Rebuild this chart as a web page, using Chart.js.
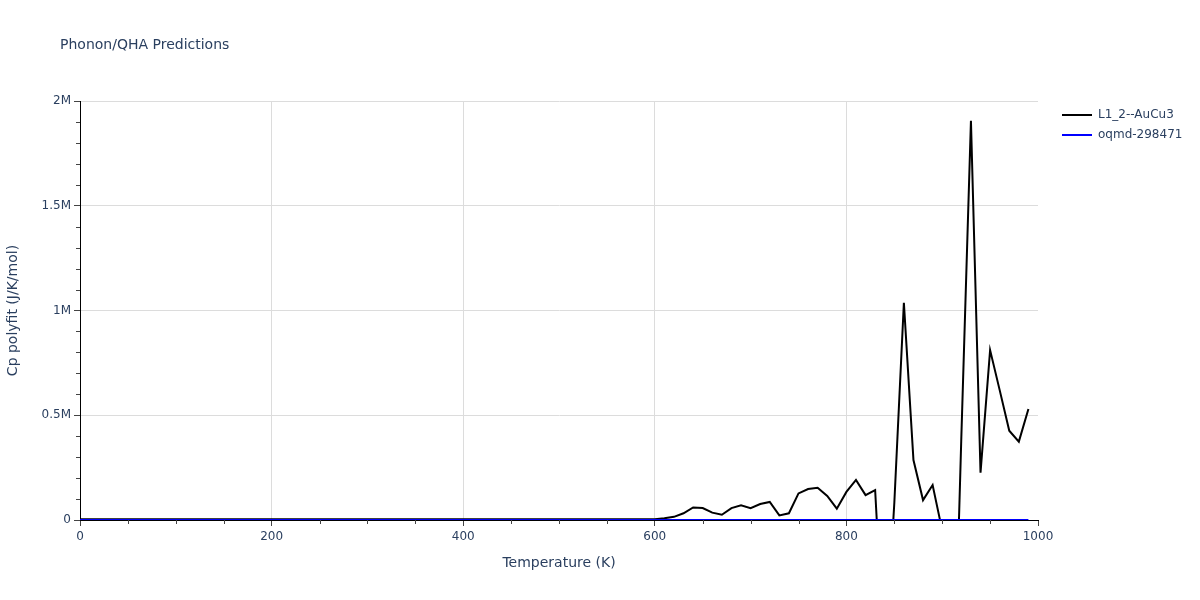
<!DOCTYPE html>
<html><head><meta charset="utf-8">
<script src="https://cdn.jsdelivr.net/npm/chart.js@4.4.0/dist/chart.umd.min.js"></script>
<style>html,body{margin:0;padding:0;background:#fff;}#wrap{width:1200px;height:600px;position:relative;}</style>
</head><body><div id="wrap"><canvas id="c" width="1200" height="600"></canvas></div>
<script>
const temperatures = [0,10,20,30,40,50,60,70,80,90,100,110,120,130,140,150,160,170,180,190,
200,210,220,230,240,250,260,270,280,290,300,310,320,330,340,350,360,370,380,390,
400,410,420,430,440,450,460,470,480,490,500,510,520,530,540,550,560,570,580,590,
600,610,620,630,640,650,660,670,680,690,700,710,720,730,740,750,760,770,780,790,
800,810,820,830,840,850,860,870,880,890,900,910,920,930,940,950,960,970,980,990];
const cpAuCu3 = [4000,4000,4000,4000,4000,4000,4000,4000,4000,4000,4000,4000,4000,4000,4000,4000,4000,4000,4000,4000,
4000,4000,4000,4000,4000,4000,4000,4000,4000,4000,4000,4000,4000,4000,4000,4000,4000,4000,4000,4000,
4000,4000,4000,4000,4000,4000,4000,4000,4000,4000,4000,4000,4000,4000,4000,4000,4000,4000,4000,4000,
4000,8000,15000,32000,60000,57000,35000,25000,57000,70000,56000,76000,86000,22000,32000,127000,148000,154000,115000,54000,
134000,191000,119000,143000,-700000,80000,1037000,286000,95000,167000,-50000,-1200000,400000,1906000,226000,811000,620000,426000,374000,530000];
const cpOqmd = [0,0,0,0,0,0,0,0,0,0,0,0,0,0,0,0,0,0,0,0,
0,0,0,0,0,0,0,0,0,0,0,0,0,0,0,0,0,0,0,0,
0,0,0,0,0,0,0,0,0,0,0,0,0,0,0,0,0,0,0,0,
0,0,0,0,0,0,0,0,0,0,0,0,0,0,0,0,0,0,0,0,
0,0,0,0,0,0,0,0,0,0,0,0,0,0,0,0,0,0,0,0];
const seriesNames = ['L1_2--AuCu3','oqmd-298471'];
const seriesColors = ['#000000','#0000ff'];
const xTicks = [0,200,400,600,800,1000];
const xTickLabels = ['0','200','400','600','800','1000'];
const xMinorTicks = [50,100,150,250,300,350,450,500,550,650,700,750,850,900,950];
const yTicks = [0,500000,1000000,1500000,2000000];
const yTickLabels = ['0','0.5M','1M','1.5M','2M'];
const yMinorTicks = [100000,200000,300000,400000,600000,700000,800000,900000,1100000,1200000,1300000,1400000,1600000,1700000,1800000,1900000];
const chartTitle = 'Phonon/QHA Predictions';
const xTitle = 'Temperature (K)';
const yTitle = 'Cp polyfit (J/K/mol)';

const FONT = 'DejaVu Sans';
const TXT = '#2a3f5f';
Chart.defaults.font.family = FONT;
Chart.defaults.color = TXT;

const toXY = (vals) => temperatures.map((t, i) => ({x: t, y: vals[i]}));

const extras = {
  id: 'extras',
  afterDraw(chart) {
    const ctx = chart.ctx;
    const xs = chart.scales.x, ys = chart.scales.y;
    const ca = chart.chartArea;
    ctx.save();
    ctx.strokeStyle = '#444';
    ctx.lineWidth = 1;
    ctx.beginPath();
    xMinorTicks.forEach(v => {
      const px = Math.round(xs.getPixelForValue(v)) + 0.5;
      ctx.moveTo(px, ca.bottom); ctx.lineTo(px, ca.bottom + 4);
    });
    yMinorTicks.forEach(v => {
      const py = Math.round(ys.getPixelForValue(v)) + 0.5;
      ctx.moveTo(ca.left - 4, py); ctx.lineTo(ca.left, py);
    });
    ctx.stroke();
    // title
    ctx.fillStyle = TXT;
    ctx.font = '14px "' + FONT + '"';
    ctx.textBaseline = 'middle';
    ctx.textAlign = 'left';
    ctx.fillText(chartTitle, 60, 45);
    // legend
    ctx.font = '12px "' + FONT + '"';
    seriesNames.forEach((name, i) => {
      const y = 115 + i * 20;
      ctx.strokeStyle = seriesColors[i];
      ctx.lineWidth = 2;
      ctx.beginPath();
      ctx.moveTo(1062, y); ctx.lineTo(1092, y);
      ctx.stroke();
      ctx.fillStyle = TXT;
      ctx.fillText(name, 1098, y);
    });
    ctx.restore();
  }
};

new Chart(document.getElementById('c'), {
  type: 'line',
  data: {
    datasets: [
      {label: seriesNames[0], data: toXY(cpAuCu3), borderColor: seriesColors[0], backgroundColor: seriesColors[0], borderWidth: 2, pointRadius: 0, tension: 0, fill: false, clip: 0, order: 1},
      {label: seriesNames[1], data: toXY(cpOqmd), borderColor: seriesColors[1], backgroundColor: seriesColors[1], borderWidth: 2, pointRadius: 0, tension: 0, fill: false, clip: 0, order: 0}
    ]
  },
  options: {
    responsive: false,
    animation: false,
    devicePixelRatio: 1,
    layout: {padding: {left: 0, right: 162, top: 101, bottom: 0}},
    plugins: {legend: {display: false}, title: {display: false}, tooltip: {enabled: false}},
    scales: {
      x: {
        type: 'linear', min: 0, max: 1000,
        afterBuildTicks: s => { s.ticks = xTicks.map(v => ({value: v})); },
        afterFit: s => { s.height = 80; },
        ticks: {font: {size: 12}, color: TXT, padding: 4, maxRotation: 0, autoSkip: false,
          callback: (v, i) => xTickLabels[i]},
        grid: {color: c => (c.tick && (c.tick.value === 0 || c.tick.value === 1000)) ? 'rgba(0,0,0,0)' : '#dcdcdc',
          lineWidth: 1, drawTicks: true, tickLength: 6, tickColor: '#444'},
        border: {display: true, color: '#000', width: 1},
        title: {display: true, text: xTitle, font: {size: 14}, color: TXT, padding: {top: 0, bottom: 28.6}}
      },
      y: {
        type: 'linear', min: 0, max: 2000000,
        afterBuildTicks: s => { s.ticks = yTicks.map(v => ({value: v})); },
        afterFit: s => { s.width = 80; },
        ticks: {font: {size: 12}, color: TXT, padding: 3, autoSkip: false,
          callback: (v, i) => yTickLabels[i]},
        grid: {color: c => (c.tick && c.tick.value === 0) ? 'rgba(0,0,0,0)' : '#dcdcdc',
          lineWidth: 1, drawTicks: true, tickLength: 6, tickColor: '#444'},
        border: {display: true, color: '#000', width: 1},
        title: {display: true, text: yTitle, font: {size: 14}, color: TXT, padding: {top: 5, bottom: 0}}
      }
    }
  },
  plugins: [extras]
});
</script></body></html>
